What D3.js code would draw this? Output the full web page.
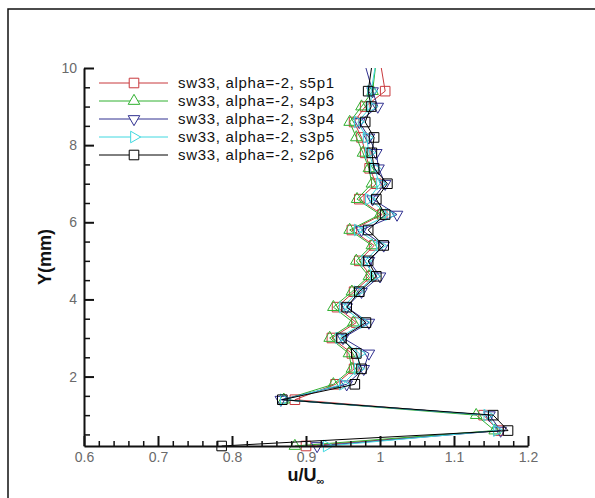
<!DOCTYPE html>
<html>
<head>
  <script type="text/javascript" src="https://d3js.org/d3.v7.min.js"></script>
  <style type="text/css">
  html, body {
    margin: 0px;
    background: #fff;
  }
  svg { display: block; }
  text { font-family: "Liberation Sans", Arial, sans-serif; }
</style>
</head>
<body>
<div id="chart"></div>
<script>
"use strict";

// Y positions of the measured points (mm), top one falls outside the plotted window
const Y_MM = [0.2, 0.6, 1.0, 1.4, 1.8, 2.2, 2.6, 3.0, 3.4, 3.8, 4.2, 4.6, 5.0,
              5.4, 5.8, 6.2, 6.6, 7.0, 7.4, 7.8, 8.2, 8.6, 9.0, 9.4, 10.2];

const SERIES_NAMES = ["sw33, alpha=-2, s5p1", "sw33, alpha=-2, s4p3", "sw33, alpha=-2, s3p4",
                      "sw33, alpha=-2, s3p5", "sw33, alpha=-2, s2p6"];

// u/U_inf for each series, same order as Y_MM
const U_S5P1 = [0.900, 1.160, 1.140, 0.885, 0.940, 0.965, 0.962, 0.935, 0.968, 0.942, 0.965, 0.988, 0.972,
                0.992, 0.962, 1.003, 0.972, 0.995, 0.986, 0.980, 0.975, 0.965, 0.980, 1.007, 1.000];
const U_S4P3 = [0.885, 1.155, 1.130, 0.870, 0.937, 0.962, 0.958, 0.932, 0.964, 0.937, 0.962, 0.985, 0.968,
                0.989, 0.959, 1.000, 0.969, 0.989, 0.985, 0.977, 0.968, 0.959, 0.975, 0.990, 0.995];
const U_S3P4 = [0.915, 1.163, 1.148, 0.866, 0.955, 0.978, 0.985, 0.950, 0.985, 0.955, 0.975, 1.000, 0.985,
                1.005, 0.975, 1.023, 0.990, 1.007, 0.998, 0.995, 0.985, 0.972, 0.997, 0.990, 0.978];
const U_S3P5 = [0.928, 1.158, 1.145, 0.870, 0.950, 0.970, 0.972, 0.945, 0.978, 0.950, 0.970, 0.992, 0.980,
                1.000, 0.970, 1.012, 0.985, 1.000, 0.992, 0.985, 0.982, 0.970, 0.988, 0.988, 0.995];
const U_S2P6 = [0.786, 1.173, 1.153, 0.868, 0.966, 0.975, 0.968, 0.948, 0.981, 0.955, 0.972, 0.995, 0.984,
                1.005, 0.984, 1.007, 0.995, 1.010, 0.992, 0.989, 0.992, 0.980, 0.988, 0.984, 0.990];

const X_TICKS = [0.6, 0.7, 0.8, 0.9, 1, 1.1, 1.2];
const Y_TICKS = [2, 4, 6, 8, 10];

const COLORS = ["#c8383c", "#30b030", "#303090", "#40d8e0", "#000000"];
const MARKERS = ["square", "up", "down", "right", "square"];

const WIDTH = 595, HEIGHT = 498;
const LEFT = 84, RIGHT = 528, TOP = 68, BOTTOM = 446;

const svg = d3.select("#chart").append("svg")
  .attr("width", WIDTH)
  .attr("height", HEIGHT);

// outer frame (runs off the right and bottom edge)
svg.append("rect")
  .attr("x", 8).attr("y", 9)
  .attr("width", 620).attr("height", 520)
  .attr("fill", "#fff")
  .attr("stroke", "#111")
  .attr("stroke-width", 1.5);

const x = d3.scaleLinear().domain([0.6, 1.2]).range([LEFT, RIGHT]);
const y = d3.scaleLinear().domain([0.2, 10]).range([BOTTOM, TOP]);

svg.append("clipPath").attr("id", "plotclip")
  .append("rect")
  .attr("x", 0).attr("y", TOP)
  .attr("width", WIDTH).attr("height", HEIGHT - TOP);

const series = [U_S5P1, U_S4P3, U_S3P4, U_S3P5, U_S2P6].map((vals, i) => ({
  name: SERIES_NAMES[i],
  color: COLORS[i],
  marker: MARKERS[i],
  points: vals.map((u, j) => ({u: u, y: Y_MM[j]}))
}));

function markerPath(kind) {
  if (kind === "square") return d3.symbol(d3.symbolSquare, 92)();
  return d3.symbol(d3.symbolTriangle, 58)();
}
function markerRotate(kind) {
  if (kind === "down") return 180;
  if (kind === "right") return 90;
  return 0;
}

const line = d3.line().x(d => x(d.u)).y(d => y(d.y));

const plot = svg.append("g").attr("clip-path", "url(#plotclip)");

series.forEach(s => {
  const g = plot.append("g");
  g.append("path")
    .datum(s.points)
    .attr("d", line)
    .attr("fill", "none")
    .attr("stroke", s.color)
    .attr("stroke-width", 1);
  g.selectAll("path.mk")
    .data(s.points)
    .join("path")
    .attr("class", "mk")
    .attr("d", markerPath(s.marker))
    .attr("transform", d => `translate(${x(d.u)},${y(d.y)}) rotate(${markerRotate(s.marker)})`)
    .attr("fill", "none")
    .attr("stroke", s.color)
    .attr("stroke-width", 1);
});

// axes: ticks point inward, minor ticks from a second axis
const xMinor = d3.range(0.6, 1.2001, 0.02).filter(v => Math.abs(v * 10 - Math.round(v * 10)) > 1e-6);
const yMinor = d3.range(0.5, 10.001, 0.5).filter(v => Math.abs(v / 2 - Math.round(v / 2)) > 1e-6);

svg.append("g")
  .attr("transform", `translate(0,${BOTTOM})`)
  .call(d3.axisBottom(x).tickValues(xMinor).tickSize(-5).tickFormat(""))
  .call(g => g.select(".domain").remove())
  .call(g => g.selectAll(".tick line").attr("stroke", "#111").attr("stroke-width", 1.5));

svg.append("g")
  .attr("transform", `translate(${LEFT},0)`)
  .call(d3.axisLeft(y).tickValues(yMinor).tickSize(-6).tickFormat(""))
  .call(g => g.select(".domain").remove())
  .call(g => g.selectAll(".tick line").attr("stroke", "#111").attr("stroke-width", 1.5));

svg.append("g")
  .attr("transform", `translate(0,${BOTTOM})`)
  .call(d3.axisBottom(x).tickValues(X_TICKS).tickSize(-10).tickSizeOuter(0).tickPadding(6)
    .tickFormat(d3.format("")))
  .call(g => g.select(".domain").attr("stroke", "#111").attr("stroke-width", 2))
  .call(g => g.selectAll(".tick line").attr("stroke", "#111").attr("stroke-width", 2))
  .call(g => g.selectAll(".tick text")
    .attr("fill", "#6a6a6a")
    .style("font-size", "14px")
    .style("font-family", "'Liberation Sans', Arial, sans-serif"));

svg.append("g")
  .attr("transform", `translate(${LEFT},0)`)
  .call(d3.axisLeft(y).tickValues(Y_TICKS).tickSize(-10).tickSizeOuter(0).tickPadding(7))
  .call(g => g.select(".domain").attr("stroke", "#111").attr("stroke-width", 2))
  .call(g => g.selectAll(".tick line").attr("stroke", "#111").attr("stroke-width", 2))
  .call(g => g.selectAll(".tick text")
    .attr("fill", "#6a6a6a")
    .style("font-size", "14px")
    .style("font-family", "'Liberation Sans', Arial, sans-serif"));

// axis titles
svg.append("text")
  .attr("transform", `translate(51,${(TOP + BOTTOM) / 2}) rotate(-90)`)
  .attr("text-anchor", "middle")
  .attr("font-weight", "bold")
  .attr("font-size", 18)
  .attr("fill", "#111")
  .text("Y(mm)");

const xt = svg.append("text")
  .attr("x", (LEFT + RIGHT) / 2)
  .attr("y", 481)
  .attr("text-anchor", "middle")
  .attr("font-weight", "bold")
  .attr("font-size", 18)
  .attr("fill", "#111");
xt.append("tspan").text("u/U");
xt.append("tspan").attr("dy", 4).attr("font-size", 11).text("\u221e");

// legend
const legend = svg.append("g");
series.forEach((s, i) => {
  const ly = 83 + i * 18;
  legend.append("line")
    .attr("x1", 99).attr("x2", 168)
    .attr("y1", ly).attr("y2", ly)
    .attr("stroke", s.color).attr("stroke-width", 1);
  legend.append("path")
    .attr("d", markerPath(s.marker))
    .attr("transform", `translate(134,${ly}) rotate(${markerRotate(s.marker)})`)
    .attr("fill", "#fff")
    .attr("stroke", s.color);
  legend.append("text")
    .attr("x", 178).attr("y", ly + 5)
    .attr("font-size", 15)
    .attr("textLength", 156)
    .attr("lengthAdjust", "spacing")
    .attr("fill", "#111")
    .text(s.name);
});
</script>
</body>
</html>
